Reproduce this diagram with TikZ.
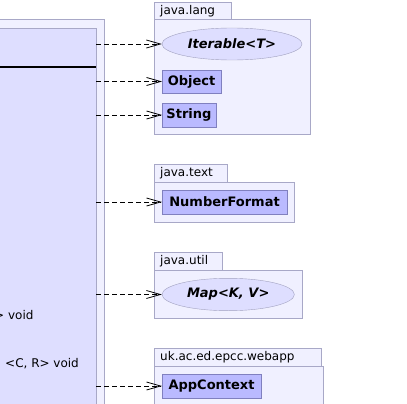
\documentclass[tikz,border=0pt]{standalone}
\usepackage{fontspec}
\setmainfont{DejaVu Sans}
\usepackage{tikz}
\usetikzlibrary{positioning,calc,shapes.geometric,arrows.meta}
\definecolor{pkgfill}{rgb}{0.94, 0.94, 1.0}
\definecolor{pkgline}{rgb}{0.66, 0.66, 0.78}
\definecolor{hostfill}{rgb}{0.87, 0.87, 1.0}
\definecolor{clsfill}{rgb}{0.73, 0.73, 1.0}
\definecolor{clsline}{rgb}{0.5, 0.5, 0.75}
\definecolor{iffill}{rgb}{0.87, 0.87, 1.0}
\definecolor{ifline}{rgb}{0.63, 0.63, 0.75}

\tikzset{
	pkgbody/.style={draw=pkgline, fill=pkgfill, anchor=north west, inner sep=0pt},
	pkgtab/.style={draw=pkgline, fill=pkgfill, anchor=south west, minimum height=17.5pt, inner xsep=6pt, inner ysep=0pt, text height=9pt, text depth=2pt, align=left, font=\fontsize{12}{14}\selectfont},
	cls/.style={draw=clsline, fill=clsfill, minimum height=23.5pt, inner sep=0pt, font=\fontsize{13}{15}\selectfont\bfseries},
	iface/.style={ellipse, draw=ifline, fill=iffill, inner sep=0pt, font=\fontsize{13}{15}\selectfont\bfseries\itshape},
	dep/.style={black, line width=0.8pt, dash pattern=on 5pt off 3pt, -{Straight Barb[length=14pt, width=8pt]}}
}

\begin{document}
\begin{tikzpicture}[x=1pt,y=-1pt]
	\useasboundingbox (0,0) rectangle (407,404);
	
	% class on the left, cut off by the page
	\node[pkgbody, anchor=north east, minimum width=114pt, minimum height=401pt] (hostpkg) at (104,19.5) {};
	\node[draw=pkgline, fill=hostfill, anchor=north east, inner sep=0pt, minimum width=106pt, minimum height=392pt] (host) at (96,28) {};
	\draw[black, line width=1.6pt] (host.north west |- 0,67) -- (host.north east |- 0,67);
	
	\node[anchor=base west, inner sep=0pt, font=\fontsize{12}{14}\selectfont] (m1) at (-6,319) {> void};
	\node[anchor=base west, inner sep=0pt, font=\fontsize{12}{14}\selectfont] (m2) at (5,367.5) {<C, R> void};
	
	% java.lang
	\node[pkgbody, minimum width=156pt, minimum height=114.5pt] (langpkg) at (154,19.5) {};
	\node[pkgtab, text width=64.7pt] (langtab) at (langpkg.north west) {java.lang};
	\node[iface, minimum width=140pt, minimum height=32pt] (iter) at (232,44) {Iterable<T>};
	\node[cls, minimum width=58.7pt, anchor=west] (obj) at (162,81.5) {Object};
	\node[cls, minimum width=53.5pt, anchor=west] (str) at (162,115) {String};
	
	% java.text
	\node[pkgbody, minimum width=140.3pt, minimum height=40pt] (textpkg) at (154,182.3) {};
	\node[pkgtab, text width=61.3pt] (texttab) at (textpkg.north west) {java.text};
	\node[cls, minimum width=124.7pt, anchor=west] (numfmt) at (162,202) {NumberFormat};
	
	% java.util
	\node[pkgbody, minimum width=148.3pt, minimum height=48.3pt] (utilpkg) at (154,270) {};
	\node[pkgtab, text width=56.3pt] (utiltab) at (utilpkg.north west) {java.util};
	\node[iface, minimum width=132.3pt, minimum height=32.4pt] (map) at (228.2,294.5) {Map<K, V>};
	
	% uk.ac.ed.epcc.webapp
	\node[pkgbody, minimum width=168.7pt, minimum height=60pt] (apppkg) at (154,366) {};
	\node[pkgtab, text width=154.7pt] (apptab) at (apppkg.north west) {uk.ac.ed.epcc.webapp};
	\node[cls, minimum width=98.7pt, anchor=west] (ctx) at (162,386) {AppContext};
	
	\draw[dep] (host.east |- iter.west) -- (iter.west);
	\draw[dep] (host.east |- obj.west) -- (obj.west);
	\draw[dep] (host.east |- str.west) -- (str.west);
	\draw[dep] (host.east |- numfmt.west) -- (numfmt.west);
	\draw[dep] (host.east |- map.west) -- (map.west);
	\draw[dep] (host.east |- ctx.west) -- (ctx.west);
	
\end{tikzpicture}
\end{document}
